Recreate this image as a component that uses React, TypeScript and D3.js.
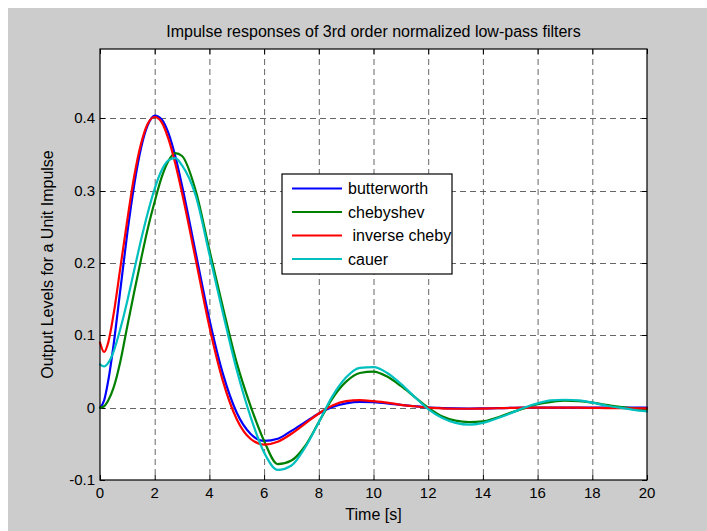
import React from 'react';
import * as d3 from 'd3';

const timeGrid = [0, 0.15, 0.3, 0.5, 0.75, 1, 1.25, 1.5, 1.75, 2, 2.25, 2.5, 2.75, 3, 3.5, 4, 4.5, 5, 5.5, 6, 6.5, 7, 7.5, 8, 8.5, 9, 9.5, 10, 10.5, 11, 11.5, 12, 12.5, 13, 13.5, 14, 14.5, 15, 15.5, 16, 16.5, 17, 17.5, 18, 18.5, 19, 19.5, 20];

const butterworth = [0, 0.01, 0.037, 0.088, 0.165, 0.242, 0.308, 0.359, 0.391, 0.404, 0.399, 0.38, 0.348, 0.307, 0.214, 0.122, 0.046, -0.007, -0.036, -0.046, -0.043, -0.032, -0.02, -0.008, 0.001, 0.006, 0.008, 0.0075, 0.006, 0.004, 0.002, 0.0003, -0.0005, -0.001, -0.0012, -0.001, -0.0007, -0.0003, 0, 0.0001, 0.0001, 0.0001, 0, 0, 0, 0, 0, 0];

const chebyshev = [0, 0.002, 0.01, 0.028, 0.065, 0.113, 0.16, 0.205, 0.248, 0.285, 0.318, 0.341, 0.352, 0.348, 0.3, 0.218, 0.138, 0.062, 0.003, -0.046, -0.078, -0.073, -0.053, -0.02, 0.013, 0.036, 0.048, 0.05, 0.043, 0.03, 0.015, 0, -0.012, -0.018, -0.02, -0.019, -0.014, -0.007, -0.001, 0.005, 0.008, 0.0097, 0.009, 0.007, 0.004, 0.001, -0.001, -0.002];

const inverseCheby = [0.09, 0.077, 0.09, 0.13, 0.195, 0.26, 0.32, 0.365, 0.393, 0.402, 0.395, 0.372, 0.338, 0.297, 0.205, 0.112, 0.036, -0.016, -0.043, -0.051, -0.047, -0.036, -0.022, -0.008, 0.003, 0.009, 0.0105, 0.009, 0.007, 0.004, 0.002, 0, -0.001, -0.0015, -0.0015, -0.0012, -0.0008, -0.0004, 0, 0, 0, 0, 0, -0.0003, -0.0005, -0.0007, -0.0008, -0.001];

const cauer = [0.06, 0.057, 0.062, 0.078, 0.11, 0.148, 0.19, 0.232, 0.27, 0.303, 0.328, 0.342, 0.345, 0.335, 0.293, 0.212, 0.13, 0.052, -0.012, -0.062, -0.086, -0.08, -0.055, -0.02, 0.016, 0.042, 0.055, 0.056, 0.048, 0.033, 0.015, -0.002, -0.014, -0.021, -0.0235, -0.021, -0.015, -0.008, 0, 0.006, 0.01, 0.011, 0.01, 0.007, 0.003, 0, -0.003, -0.005];

const seriesNames = ['butterworth', 'chebyshev', ' inverse cheby', 'cauer'];
const seriesValues = [butterworth, chebyshev, inverseCheby, cauer];
const seriesColors = ['#0000ff', '#008000', '#ff0000', '#00bfbf'];

const xTicks = [0, 2, 4, 6, 8, 10, 12, 14, 16, 18, 20];
const yTicks = [-0.1, 0, 0.1, 0.2, 0.3, 0.4];

const titleText = 'Impulse responses of 3rd order normalized low-pass filters';
const xLabel = 'Time [s]';
const yLabel = 'Output Levels for a Unit Impulse';

const FONT = '"Liberation Sans", Arial, Helvetica, sans-serif';

export default function App() {
  const W = 707, H = 531;
  const left = 100, right = 647, top = 49, bottom = 480;
  const x = d3.scaleLinear().domain([0, 20]).range([left, right]);
  const y = d3.scaleLinear().domain([-0.1, 0.496]).range([bottom, top]);
  const line = d3.line<number>()
    .x((_, i) => x(timeGrid[i]))
    .y((d) => y(d))
    .curve(d3.curveMonotoneX);

  const tickLen = 5;
  const legX = 282, legY = 174, legW = 170, legH = 100;
  const rowY = [188.5, 212, 235.5, 259];

  return (
    <>
      <style>{'html,body{overflow:hidden;margin:0;}'}</style>
      <svg width={W} height={H} style={{ position: 'absolute', left: 0, top: 0, display: 'block' }} fontFamily={FONT}>
        <rect x={0} y={0} width={W} height={H} fill="#ffffff" />
        <rect x={8} y={8} width={W - 8} height={H - 8} fill="#cccccc" />
        <rect x={left} y={top} width={right - left} height={bottom - top} fill="#ffffff" />
        {/* grid */}
        <g stroke="#000" strokeWidth={0.8} strokeDasharray="6,4" opacity={0.75}>
          {xTicks.slice(1, -1).map((t) => (
            <line key={'gx' + t} x1={x(t) + 0.5} x2={x(t) + 0.5} y1={top} y2={bottom} />
          ))}
          {yTicks.slice(1).map((t) => (
            <line key={'gy' + t} x1={left} x2={right} y1={Math.round(y(t)) + 0.5} y2={Math.round(y(t)) + 0.5} />
          ))}
        </g>
        {/* ticks */}
        <g stroke="#000" strokeWidth={1}>
          {xTicks.map((t) => (
            <g key={'tx' + t}>
              <line x1={x(t) + 0.5} x2={x(t) + 0.5} y1={bottom} y2={bottom - tickLen} />
              <line x1={x(t) + 0.5} x2={x(t) + 0.5} y1={top} y2={top + tickLen} />
            </g>
          ))}
          {yTicks.map((t) => (
            <g key={'ty' + t}>
              <line x1={left} x2={left + tickLen} y1={Math.round(y(t)) + 0.5} y2={Math.round(y(t)) + 0.5} />
              <line x1={right} x2={right - tickLen} y1={Math.round(y(t)) + 0.5} y2={Math.round(y(t)) + 0.5} />
            </g>
          ))}
        </g>
        {/* series */}
        <g fill="none" strokeWidth={2.2} strokeLinejoin="round" strokeLinecap="round">
          {seriesValues.map((vals, i) => (
            <path key={seriesNames[i]} d={line(vals) || ''} stroke={seriesColors[i]} />
          ))}
        </g>
        {/* axes box */}
        <rect x={left} y={top} width={right - left} height={bottom - top} fill="none" stroke="#000" strokeWidth={1.2} />
        {/* tick labels */}
        <g fontSize={15} fill="#000">
          {xTicks.map((t) => (
            <text key={'lx' + t} x={x(t)} y={bottom + 18} textAnchor="middle">{t}</text>
          ))}
          {yTicks.map((t) => (
            <text key={'ly' + t} x={left - 5} y={y(t) + 5} textAnchor="end">{t}</text>
          ))}
        </g>
        <text x={(left + right) / 2} y={37} textAnchor="middle" fontSize={16} fill="#000">{titleText}</text>
        <text x={(left + right) / 2} y={520} textAnchor="middle" fontSize={16} fill="#000">{xLabel}</text>
        <text transform={`translate(53,${(top + bottom) / 2}) rotate(-90)`} textAnchor="middle" fontSize={16} fill="#000">{yLabel}</text>
        {/* legend */}
        <rect x={legX} y={legY} width={legW} height={legH} fill="#ffffff" stroke="#000" strokeWidth={1.2} />
        {seriesNames.map((n, i) => (
          <g key={'leg' + n}>
            <line x1={292} x2={342} y1={rowY[i]} y2={rowY[i]} stroke={seriesColors[i]} strokeWidth={2.2} />
            <text x={348} y={rowY[i] + 5.5} fontSize={16} fill="#000" style={{ whiteSpace: 'pre' }}>{n}</text>
          </g>
        ))}
      </svg>
    </>
  );
}
